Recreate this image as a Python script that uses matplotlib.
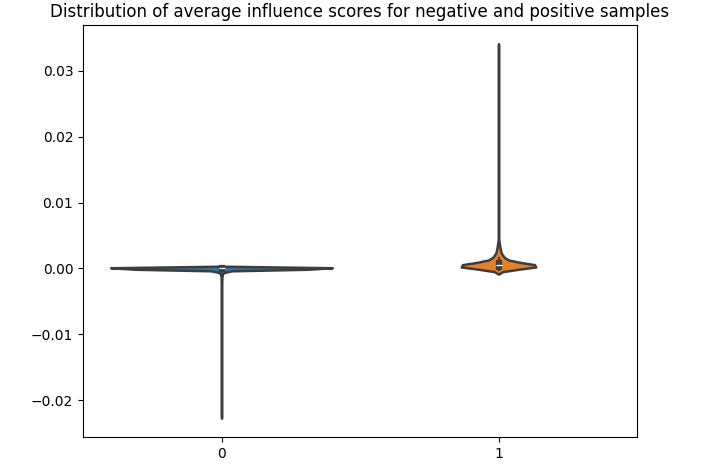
import numpy as np
import matplotlib
matplotlib.use("Agg")
import matplotlib.pyplot as plt
import seaborn as sns

# average influence scores, given as value / count tables
neg_values = [-0.0226, -0.012, -0.006, -0.004, -0.003, -0.002, -0.0015, -0.001,
              -0.0007, -0.0005, -0.0003, -0.0002, -0.0001, 0.0, 0.0001, 0.0002]
neg_counts = [1, 1, 1, 1, 2, 4, 8, 20,
              45, 90, 190, 350, 750, 2500, 1200, 150]

pos_values = [-0.0003, -0.0001, 0.0001, 0.0003, 0.0005, 0.0007, 0.0009, 0.0012,
              0.0016, 0.0020, 0.0025, 0.0030, 0.0035, 0.0040, 0.0050, 0.0060,
              0.0080, 0.0100, 0.0120, 0.0150, 0.0180, 0.0220, 0.0270, 0.0336]
pos_counts = [50, 220, 460, 580, 520, 400, 280, 200,
              150, 105, 72, 50, 32, 22, 12, 7,
              4, 2, 2, 1, 1, 1, 1, 1]

labels = [0, 1]

y = np.concatenate([np.repeat(neg_values, neg_counts),
                    np.repeat(pos_values, pos_counts)])
x = np.concatenate([np.repeat(labels[0], sum(neg_counts)),
                    np.repeat(labels[1], sum(pos_counts))])

fig = plt.figure(figsize=(7.09, 4.68), dpi=100)
ax = fig.add_axes([83 / 709, 1 - 437 / 468, (637 - 83) / 709, (437 - 25) / 468])

if int(sns.__version__.split(".")[1]) >= 13:
    sns.violinplot(x=x, y=y, hue=x, palette=["C0", "C1"], legend=False,
                   common_norm=True, linewidth=1.8, linecolor="#3d3d3d",
                   inner_kws={"box_width": 4.5, "whis_width": 1.5}, ax=ax)
else:
    sns.violinplot(x=x, y=y, linewidth=1.8, ax=ax)

ax.set_title("Distribution of average influence scores for negative and positive samples")
fig.savefig("out.png", dpi=100)
